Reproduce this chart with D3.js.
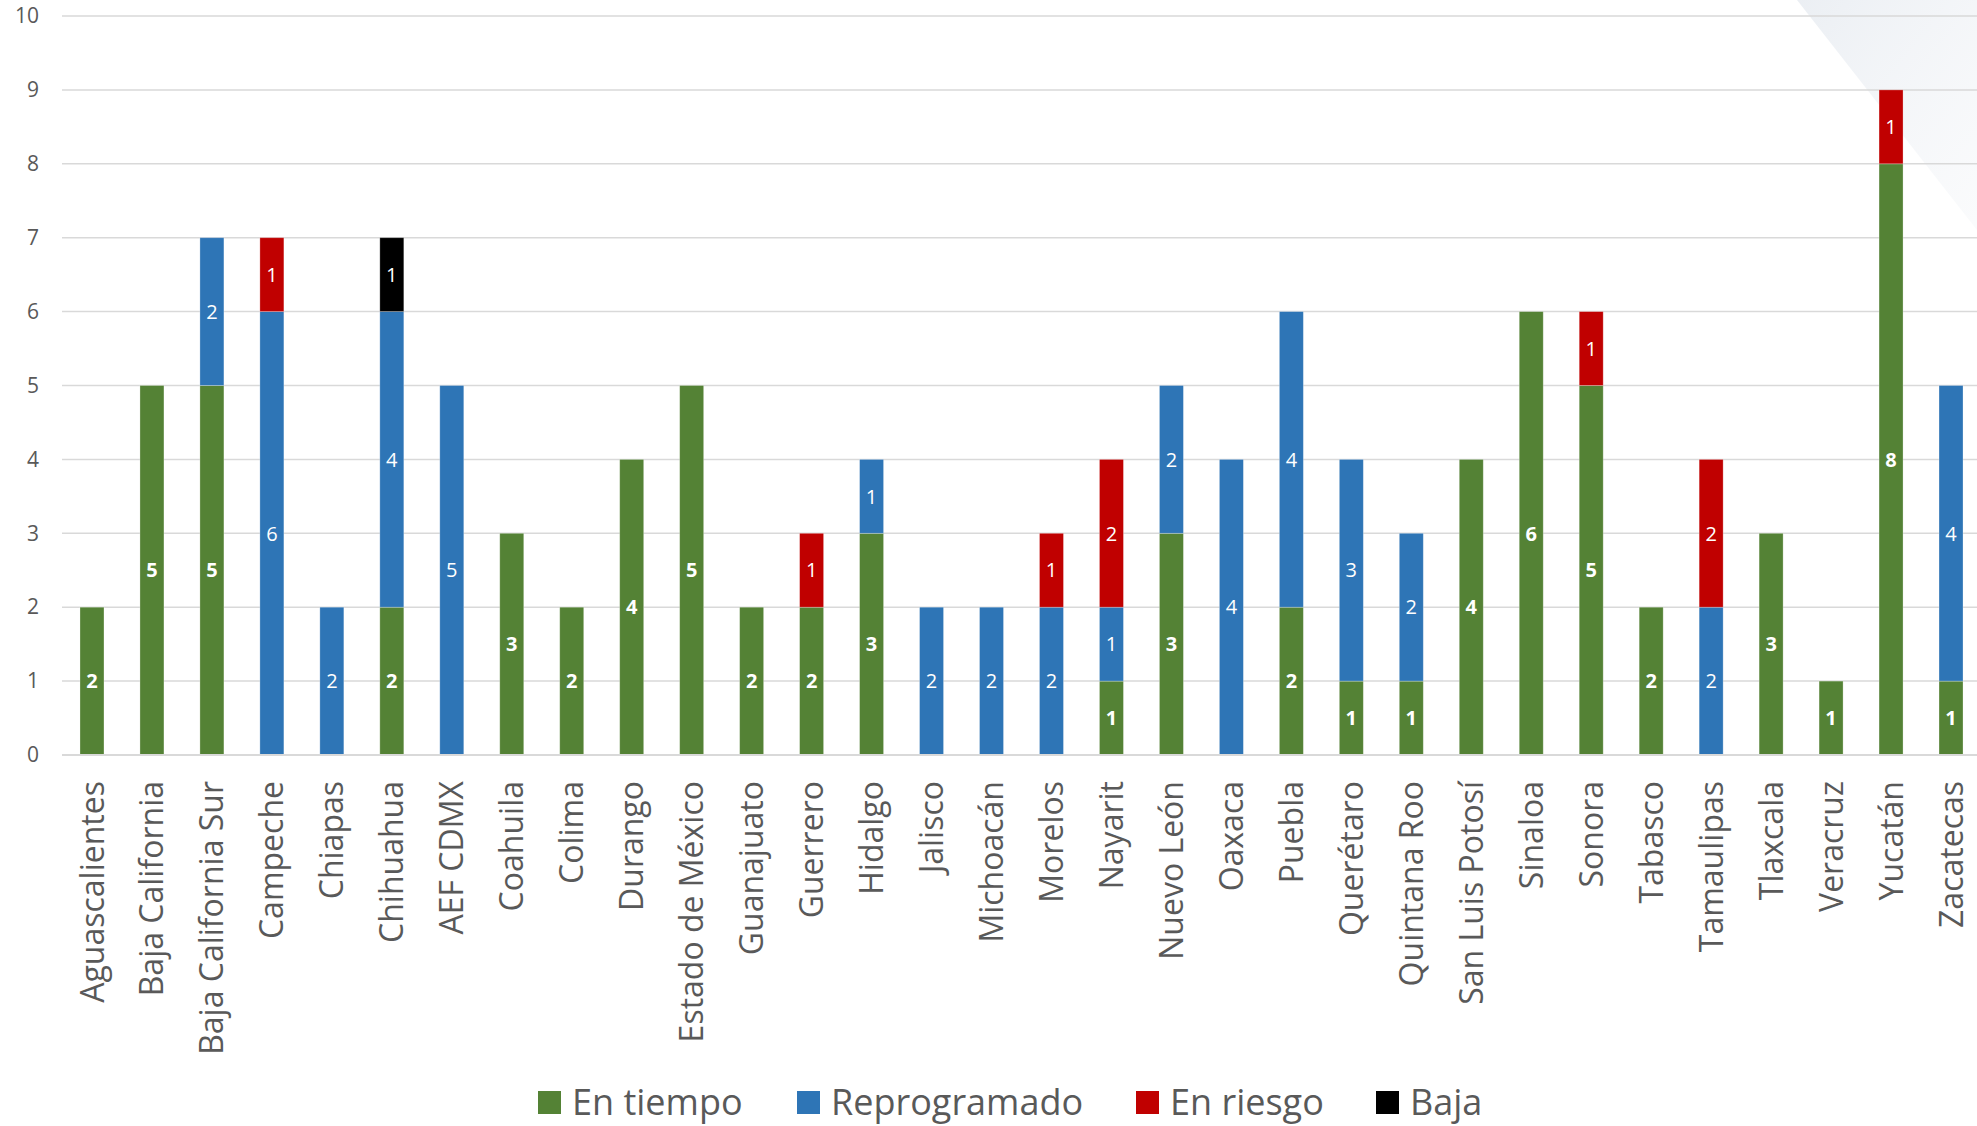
<!DOCTYPE html>
<html><head><meta charset="utf-8">
<script src="https://cdn.jsdelivr.net/npm/d3@7"></script>
<style>html,body{margin:0;padding:0;background:#fff;overflow:hidden}</style>
</head><body><svg id="c" width="1977" height="1126"></svg>
<script>
const categories = ["Aguascalientes","Baja California","Baja California Sur","Campeche","Chiapas","Chihuahua","AEF CDMX","Coahuila","Colima","Durango","Estado de México","Guanajuato","Guerrero","Hidalgo","Jalisco","Michoacán","Morelos","Nayarit","Nuevo León","Oaxaca","Puebla","Querétaro","Quintana Roo","San Luis Potosí","Sinaloa","Sonora","Tabasco","Tamaulipas","Tlaxcala","Veracruz","Yucatán","Zacatecas"];
const enTiempo     = [2,5,5,0,0,2,0,3,2,4,5,2,2,3,0,0,0,1,3,0,2,1,1,4,6,5,2,0,3,1,8,1];
const reprogramado = [0,0,2,6,2,4,5,0,0,0,0,0,0,1,2,2,2,1,2,4,4,3,2,0,0,0,0,2,0,0,0,4];
const enRiesgo     = [0,0,0,1,0,0,0,0,0,0,0,0,1,0,0,0,1,2,0,0,0,0,0,0,0,1,0,2,0,0,1,0];
const baja         = [0,0,0,0,0,1,0,0,0,0,0,0,0,0,0,0,0,0,0,0,0,0,0,0,0,0,0,0,0,0,0,0];
const seriesNames  = ["En tiempo","Reprogramado","En riesgo","Baja"];
const seriesColors = ["#548235","#2E75B6","#C00000","#000000"];
const yTicks = [0,1,2,3,4,5,6,7,8,9,10];

const svg = d3.select("#c");
const W = 1977, H = 1126;
const FONT = "'Open Sans', 'Noto Sans', sans-serif";

// background decoration
const defs = svg.append("defs");
const g1 = defs.append("linearGradient").attr("id","bgd").attr("x1","0").attr("y1","0").attr("x2","1").attr("y2","1");
g1.append("stop").attr("offset","0").attr("stop-color","#e9edf2").attr("stop-opacity",0.9);
g1.append("stop").attr("offset","1").attr("stop-color","#f3f5f8").attr("stop-opacity",0.4);
svg.append("polygon").attr("points",`1797,0 ${W},0 ${W},230`).attr("fill","url(#bgd)");

const x = d3.scaleBand().domain(categories).range([62, 1981]).paddingInner(0.6).paddingOuter(0.3);
const y = d3.scaleLinear().domain([0,10]).range([755, 16]);

// grid
svg.append("g").selectAll("line").data(yTicks).join("line")
  .attr("x1",62).attr("x2",W).attr("y1",d=>y(d)).attr("y2",d=>y(d))
  .attr("stroke","#d9d9d9").attr("stroke-width",1.5);

// y axis labels
const yAxis = d3.axisLeft(y).tickValues(yTicks).tickSize(0).tickPadding(0);
const ya = svg.append("g").attr("transform","translate(39,0)").call(yAxis);
ya.select(".domain").remove();
ya.selectAll("text").attr("font-family",FONT).attr("font-size",21).attr("fill","#595959");

// stacked data
const rows = categories.map((c,i)=>({cat:c, "En tiempo":enTiempo[i], "Reprogramado":reprogramado[i], "En riesgo":enRiesgo[i], "Baja":baja[i]}));
const stack = d3.stack().keys(seriesNames)(rows);

const layers = svg.append("g").selectAll("g").data(stack).join("g")
  .attr("fill",(d,i)=>seriesColors[i]);
layers.selectAll("rect").data(d=>d.filter(s=>s[1]-s[0]>0)).join("rect")
  .attr("x",d=>x(d.data.cat)).attr("width",x.bandwidth())
  .attr("y",d=>y(d[1])).attr("height",d=>y(d[0])-y(d[1]))
  .attr("stroke","#ffffff").attr("stroke-opacity",0.35).attr("stroke-width",0.8);

// value labels
stack.forEach((layer,i)=>{
  svg.append("g").selectAll("text").data(layer.filter(s=>s[1]-s[0]>0)).join("text")
    .attr("x",d=>x(d.data.cat)+x.bandwidth()/2)
    .attr("y",d=>(y(d[0])+y(d[1]))/2)
    .attr("dy","0.36em")
    .attr("text-anchor","middle")
    .attr("font-family",FONT).attr("font-size",20)
    .attr("font-weight", i===0 ? 700 : 400)
    .attr("fill","#ffffff")
    .text(d=>d[1]-d[0]);
});

// x axis baseline
svg.append("line").attr("x1",62).attr("x2",W).attr("y1",y(0)).attr("y2",y(0)).attr("stroke","#d9d9d9").attr("stroke-width",2);

// category labels
const xAxis = d3.axisBottom(x).tickSize(0).tickPadding(0);
const xa = svg.append("g").attr("transform",`translate(0,${y(0)})`).call(xAxis);
xa.select(".domain").remove();
xa.selectAll("text")
  .attr("font-family",FONT).attr("font-size",32).attr("fill","#595959")
  .attr("text-anchor","end")
  .attr("transform","rotate(-90)")
  .attr("x",-26).attr("y",0).attr("dy","0.36em");

// legend
const legX = [538, 797, 1136, 1376];
const leg = svg.append("g").selectAll("g").data(seriesNames).join("g")
  .attr("transform",(d,i)=>`translate(${legX[i]},1091)`);
leg.append("rect").attr("width",23).attr("height",23).attr("fill",(d,i)=>seriesColors[i]);
leg.append("text").attr("x",34).attr("y",24)
  .attr("font-family",FONT).attr("font-size",36).attr("fill","#595959")
  .text(d=>d);
</script></body></html>
